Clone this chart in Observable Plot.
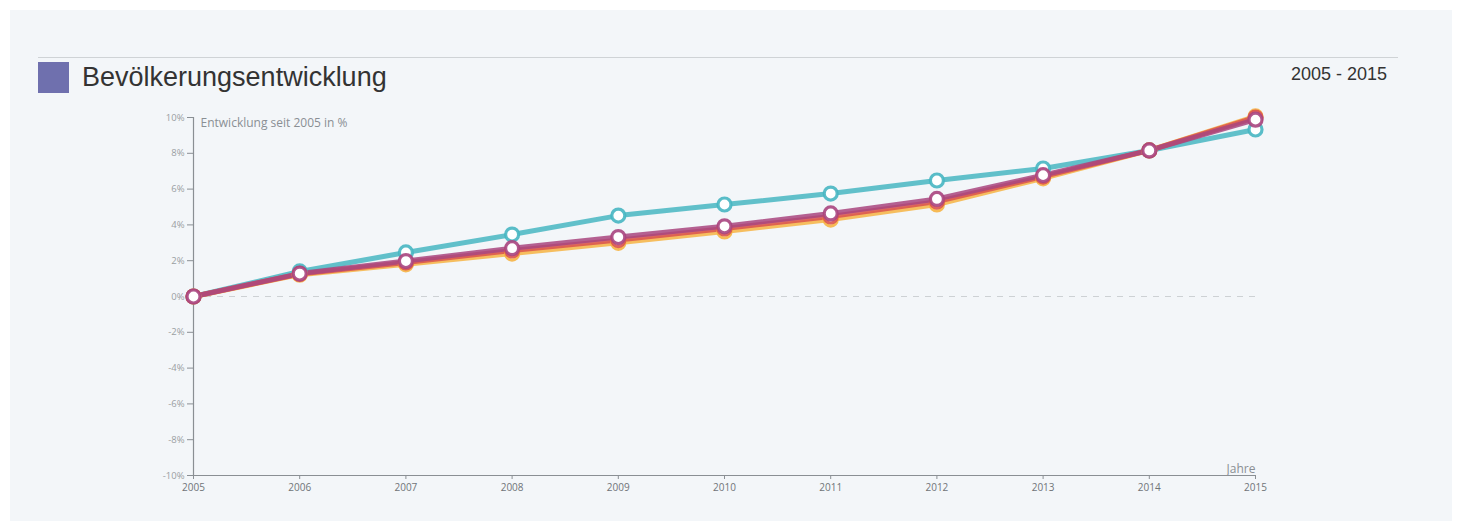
<!DOCTYPE html>
<html>
<head>
<meta charset="utf-8">
<script src="https://cdn.jsdelivr.net/npm/d3@7"></script>
<script src="https://cdn.jsdelivr.net/npm/@observablehq/plot@0.6"></script>
<style>
  html, body { margin: 0; padding: 0; background: #ffffff; }
  #panel { position: absolute; left: 10px; top: 10px; width: 1442px; height: 511px; background: #f3f6f9; }
  #rule { position: absolute; left: 38px; top: 57px; width: 1360px; height: 1px; background: #cfd3d6; }
  #sq { position: absolute; left: 38px; top: 62px; width: 31px; height: 31px; background: #6f70ae; }
  #title { position: absolute; left: 82px; top: 62px; font: 27px "Liberation Sans", Arial, sans-serif; color: #333; }
  #range { position: absolute; right: 76px; top: 64px; font: 18px "Liberation Sans", Arial, sans-serif; color: #333; }
  #chart { position: absolute; left: 0; top: 100px; }
  #chart svg { overflow: visible; }
</style>
</head>
<body>
<div id="panel"></div>
<div id="rule"></div>
<div id="sq"></div>
<div id="title">Bevölkerungsentwicklung</div>
<div id="range">2005 - 2015</div>
<div id="chart"></div>
<script>
const years = [2005, 2006, 2007, 2008, 2009, 2010, 2011, 2012, 2013, 2014, 2015];
const seriesNames = ["A", "B", "C", "D"];
const seriesColors = ["#47b6c2", "#f6b444", "#d9524f", "#a8457f"];
const valuesA = [0, 1.40, 2.46, 3.46, 4.52, 5.14, 5.75, 6.48, 7.15, 8.16, 9.33];
const valuesB = [0, 1.22, 1.80, 2.40, 3.00, 3.63, 4.30, 5.14, 6.60, 8.16, 10.06];
const valuesC = [0, 1.26, 1.90, 2.57, 3.15, 3.80, 4.47, 5.30, 6.70, 8.16, 10.00];
const valuesD = [0, 1.28, 1.98, 2.70, 3.32, 3.92, 4.64, 5.45, 6.78, 8.16, 9.88];
const yTicks = [-10, -8, -6, -4, -2, 0, 2, 4, 6, 8, 10];

const allValues = [valuesA, valuesB, valuesC, valuesD];
const data = [];
seriesNames.forEach((s, i) => years.forEach((y, j) => data.push({series: s, year: y, value: allValues[i][j]})));

const grey = "#8a8f94";
const plot = Plot.plot({
  width: 1463,
  height: 400,
  marginLeft: 193,
  marginRight: 208,
  marginTop: 17,
  marginBottom: 25,
  style: {background: "transparent", fontFamily: "'Open Sans', sans-serif", fontSize: "9.5px", color: grey},
  x: {domain: [2005, 2015]},
  y: {domain: [-10, 10]},
  color: {domain: seriesNames, range: seriesColors},
  marks: [
    Plot.ruleY([0], {stroke: "#cdd1d4", strokeDasharray: "6,6", strokeWidth: 1}),
    Plot.axisY({ticks: yTicks, tickFormat: d => d + "%", tickSize: 6, stroke: grey, fill: "#9a9ea2", tickPadding: 3, label: null}),
    Plot.ruleX([2005], {stroke: grey, strokeWidth: 1.2}),
    Plot.ruleY([-10], {stroke: grey, strokeWidth: 1.2}),
    Plot.axisX({ticks: years, tickFormat: d => String(d), tickSize: 4, stroke: grey, fill: "#707478", tickPadding: 4, fontSize: 10, label: null}),
    Plot.text(["Entwicklung seit 2005 in %"], {frameAnchor: "top-left", dx: 7, dy: 1, fill: "#8a8f94", fontSize: 12, textAnchor: "start"}),
    Plot.text(["Jahre"], {frameAnchor: "bottom-right", dy: -3, dx: 0, fill: "#8a8f94", fontSize: 12, textAnchor: "end"}),
    Plot.line(data, {x: "year", y: "value", z: "series", stroke: "series", strokeWidth: 5, strokeOpacity: 0.85}),
    Plot.dot(data, {x: "year", y: "value", stroke: "series", fill: "white", r: 6.5, strokeWidth: 3.2, strokeOpacity: 0.9})
  ]
});
document.getElementById("chart").appendChild(plot);
</script>
</body>
</html>
